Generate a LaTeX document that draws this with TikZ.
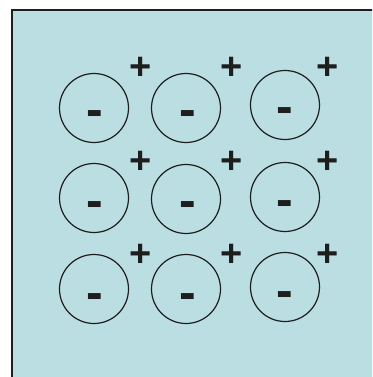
\documentclass[tikz,border=0pt]{standalone}
\usepackage{fontspec}
\setmainfont{Liberation Sans}
\definecolor{panel}{RGB}{186,222,226}
\definecolor{ink}{RGB}{30,30,30}
\tikzset{
  ion/.style={circle, draw=ink, line width=1.2pt, minimum size=69pt, inner sep=0pt},
  minus/.style={inner sep=0pt, anchor=base, font=\fontsize{50}{50}\selectfont\bfseries, text=ink},
  plus/.style={inner sep=0pt, anchor=base, font=\fontsize{38}{38}\selectfont\bfseries, text=ink}
}
\begin{document}
\begin{tikzpicture}[x=1pt,y=-1pt]
\clip (0,0) rectangle (372,377);
\fill[white] (0,0) rectangle (372,377);
\draw[fill=panel, draw=ink, line width=1.5pt] (12,10) rectangle (390,395);
% circles
\node[ion] (c11) at (94,108) {};
\node[ion] (c12) at (186,108) {};
\node[ion] (c13) at (285,105) {};
\node[ion] (c21) at (94,198) {};
\node[ion] (c22) at (186,199) {};
\node[ion] (c23) at (285,197) {};
\node[ion] (c31) at (94,289) {};
\node[ion] (c32) at (186,289) {};
\node[ion] (c33) at (285,287) {};
% minus signs (baseline = centre + 0.275em)
\node[minus] (m11) at (95,126) {-};
\node[minus] (m12) at (188,127) {-};
\node[minus] (m13) at (285,124) {-};
\node[minus] (m21) at (95,217) {-};
\node[minus] (m22) at (188,217) {-};
\node[minus] (m23) at (285,216) {-};
\node[minus] (m31) at (95,309) {-};
\node[minus] (m32) at (188,309) {-};
\node[minus] (m33) at (285,307) {-};
% plus signs
\node[plus] (p11) at (141,80) {+};
\node[plus] (p12) at (232,80) {+};
\node[plus] (p13) at (328,80) {+};
\node[plus] (p21) at (141,173) {+};
\node[plus] (p22) at (232,173) {+};
\node[plus] (p23) at (328,173) {+};
\node[plus] (p31) at (141,266) {+};
\node[plus] (p32) at (232,266) {+};
\node[plus] (p33) at (328,266) {+};
\end{tikzpicture}
\end{document}
